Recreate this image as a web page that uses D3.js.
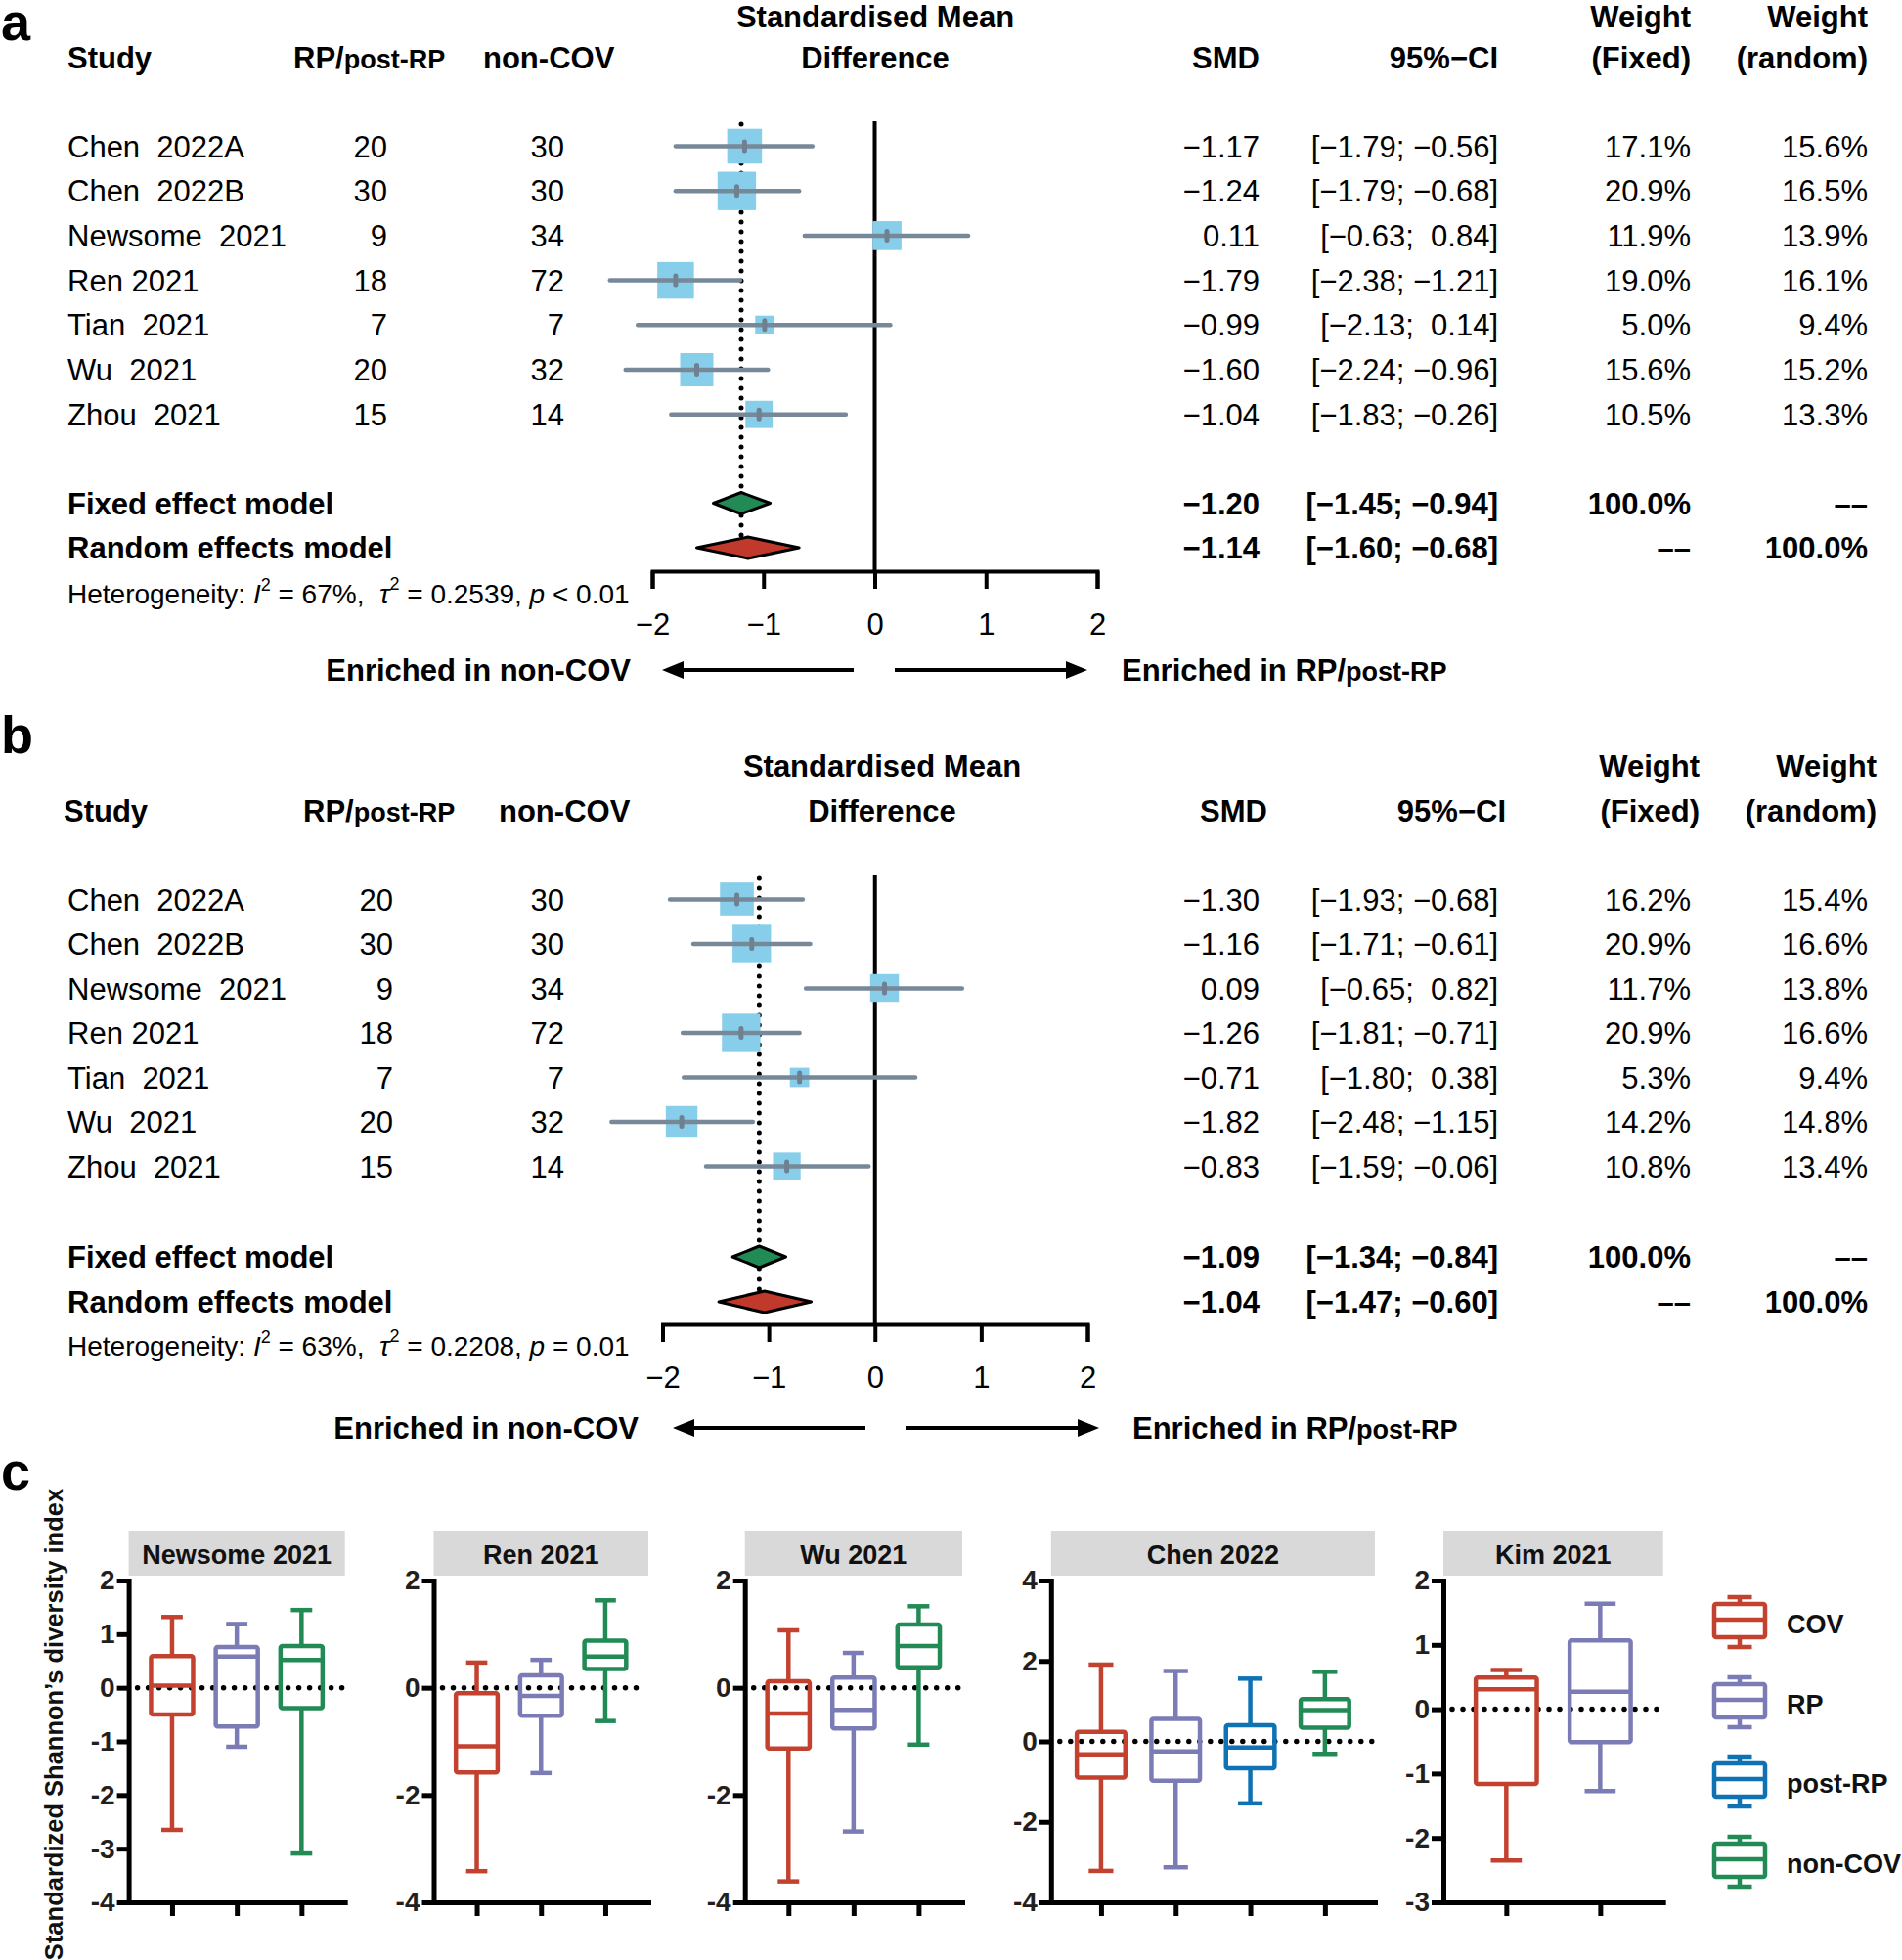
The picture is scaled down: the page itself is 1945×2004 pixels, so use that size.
<!DOCTYPE html>
<html><head><meta charset="utf-8">
<script src="https://cdn.jsdelivr.net/npm/d3@7"></script>
<style>
body{margin:0;background:#fff;}
svg{display:block;font-family:"Liberation Sans",Arial,Helvetica,sans-serif;}
text{white-space:pre;}
</style></head><body>
<svg id="chart" width="1945" height="2004"></svg>
<script>
// ---------------- DATA ----------------
const studies = ["Chen  2022A","Chen  2022B","Newsome  2021","Ren 2021","Tian  2021","Wu  2021","Zhou  2021"];
const nRP = [20,30,9,18,7,20,15];
const nNonCOV = [30,30,34,72,7,32,14];

// panel a
const smdA = [-1.17,-1.24,0.11,-1.79,-0.99,-1.60,-1.04];
const lowerA = [-1.79,-1.79,-0.63,-2.38,-2.13,-2.24,-1.83];
const upperA = [-0.56,-0.68,0.84,-1.21,0.14,-0.96,-0.26];
const wFixedA = [17.1,20.9,11.9,19.0,5.0,15.6,10.5];
const wRandomA = [15.6,16.5,13.9,16.1,9.4,15.2,13.3];
const fixedA = [-1.20,-1.45,-0.94];   // estimate, lower, upper
const randomA = [-1.14,-1.60,-0.68];
const hetA = ["67%","0.2539","< 0.01"];

// panel b
const smdB = [-1.30,-1.16,0.09,-1.26,-0.71,-1.82,-0.83];
const lowerB = [-1.93,-1.71,-0.65,-1.81,-1.80,-2.48,-1.59];
const upperB = [-0.68,-0.61,0.82,-0.71,0.38,-1.15,-0.06];
const wFixedB = [16.2,20.9,11.7,20.9,5.3,14.2,10.8];
const wRandomB = [15.4,16.6,13.8,16.6,9.4,14.8,13.4];
const fixedB = [-1.09,-1.34,-0.84];
const randomB = [-1.04,-1.47,-0.60];
const hetB = ["63%","0.2208","= 0.01"];

const smdTicks = [-2,-1,0,1,2];

// panel c
const boxGroups = ["COV","RP","post-RP","non-COV"];
const boxColors = ["#C2412F","#7B7BB6","#0E72B5","#228A55"];
const boxStudies = ["Newsome 2021","Ren 2021","Wu 2021","Chen 2022","Kim 2021"];
const boxGroupsByStudy = [
  ["COV","RP","non-COV"],
  ["COV","RP","non-COV"],
  ["COV","RP","non-COV"],
  ["COV","RP","post-RP","non-COV"],
  ["COV","RP"]
];
// [lower whisker, Q1, median, Q3, upper whisker]
const boxStats = [
  [[-2.65,-0.50,0.04,0.59,1.32],[-1.10,-0.72,0.58,0.76,1.19],[-3.09,-0.38,0.52,0.78,1.45]],
  [[-3.42,-1.58,-1.09,-0.10,0.47],[-1.59,-0.52,-0.15,0.23,0.52],[-0.62,0.35,0.58,0.88,1.63]],
  [[-3.61,-1.13,-0.48,0.12,1.07],[-2.68,-0.76,-0.41,0.19,0.65],[-1.06,0.38,0.78,1.18,1.52]],
  [[-3.22,-0.90,-0.32,0.24,1.91],[-3.13,-0.98,-0.25,0.56,1.75],[-1.54,-0.67,-0.15,0.40,1.56],[-0.31,0.34,0.78,1.05,1.73]],
  [[-2.35,-1.16,0.31,0.49,0.61],[-1.27,-0.51,0.27,1.07,1.64]]
];
const yDomains = [[-4,2],[-4,2],[-4,2],[-4,4],[-3,2]];
const yTicks = [[2,1,0,-1,-2,-3,-4],[2,0,-2,-4],[2,0,-2,-4],[4,2,0,-2,-4],[2,1,0,-1,-2,-3]];
const yLabel = "Standardized Shannon\u2019s diversity index";

// ---------------- DRAW ----------------
const svg = d3.select("#chart");
svg.append("rect").attr("width",1945).attr("height",2004).attr("fill","#fff");

function txt(g, x, y, s, o = {}) {
  return g.append("text").attr("x", x).attr("y", y).attr("dy", "0.36em")
    .attr("font-size", o.size || 31).attr("font-weight", o.bold ? "bold" : "normal")
    .attr("text-anchor", o.anchor || "start").attr("fill", o.fill || "#000").text(s);
}
const fmtNum = v => (v < 0 ? "\u2212" : "") + Math.abs(v).toFixed(2);
const fmtCI = (lo, hi) => "[" + (lo < 0 ? "\u2212" : " ") + Math.abs(lo).toFixed(2) + ";" + (hi < 0 ? " \u2212" : "  ") + Math.abs(hi).toFixed(2) + "]";
const fmtPct = v => v.toFixed(1) + "%";
const DASH = "\u2013\u2013";

function drawForest(L, D) {
  const g = svg.append("g");
  const x = d3.scaleLinear().domain([smdTicks[0], smdTicks[smdTicks.length - 1]]).range(L.xRange);
  const rowY = i => L.row0 + i * L.rowStep;

  // panel letter
  g.append("text").attr("x", L.letterX).attr("y", L.letterY).attr("font-size", 54).attr("font-weight", "bold").text(L.letter);

  // headers
  txt(g, L.hCenter, L.h1, "Standardised Mean", {bold: 1, anchor: "middle"});
  txt(g, L.hCenter, L.h2, "Difference", {bold: 1, anchor: "middle"});
  txt(g, L.hStudy, L.h2, "Study", {bold: 1});
  txt(g, L.hRP, L.h2, "RP/", {bold: 1}).append("tspan").attr("font-size", 27).text("post-RP");
  txt(g, L.hNon, L.h2, "non-COV", {bold: 1});
  txt(g, L.hSMD, L.h2, "SMD", {bold: 1, anchor: "end"});
  txt(g, L.hCI, L.h2, "95%\u2212CI", {bold: 1, anchor: "end"});
  txt(g, L.hWF, L.h1, "Weight", {bold: 1, anchor: "end"});
  txt(g, L.hWF, L.h2, "(Fixed)", {bold: 1, anchor: "end"});
  txt(g, L.hWR, L.h1, "Weight", {bold: 1, anchor: "end"});
  txt(g, L.hWR, L.h2, "(random)", {bold: 1, anchor: "end"});

  // reference lines
  g.append("line").attr("x1", x(0)).attr("x2", x(0)).attr("y1", L.zeroTop).attr("y2", L.axisY)
    .attr("stroke", "#000").attr("stroke-width", 4);
  g.append("line").attr("x1", x(D.fixed[0])).attr("x2", x(D.fixed[0])).attr("y1", L.zeroTop + 3).attr("y2", L.axisY - 8)
    .attr("stroke", "#000").attr("stroke-width", 5).attr("stroke-dasharray", "0 10").attr("stroke-linecap", "round");

  // study rows
  D.smd.forEach((v, i) => {
    const y = rowY(i);
    txt(g, L.cStudy, y, studies[i]);
    txt(g, L.cN1, y, String(nRP[i]), {anchor: "end"});
    txt(g, L.cN2, y, String(nNonCOV[i]), {anchor: "end"});
    const side = L.sq * Math.sqrt(D.wf[i]);
    g.append("rect").attr("x", x(v) - side / 2).attr("y", y - side / 2).attr("width", side).attr("height", side)
      .attr("fill", "#87CEEB");
    g.append("line").attr("x1", x(D.lo[i])).attr("x2", x(D.hi[i])).attr("y1", y).attr("y2", y)
      .attr("stroke", "#778899").attr("stroke-width", 4.5).attr("stroke-linecap", "round");
    g.append("rect").attr("x", x(v) - 2.5).attr("y", y - 7).attr("width", 5).attr("height", 14).attr("rx", 2.5)
      .attr("fill", "#6f8090");
    txt(g, L.cSMD, y, fmtNum(v), {anchor: "end"});
    txt(g, L.cCI, y, fmtCI(D.lo[i], D.hi[i]), {anchor: "end"});
    txt(g, L.cWF, y, fmtPct(D.wf[i]), {anchor: "end"});
    txt(g, L.cWR, y, fmtPct(D.wr[i]), {anchor: "end"});
  });

  // pooled rows
  const pooled = [
    {name: "Fixed effect model", est: D.fixed, y: L.fixedY, fill: "#228A55", wf: "100.0%", wr: DASH},
    {name: "Random effects model", est: D.random, y: L.randomY, fill: "#C0392B", wf: DASH, wr: "100.0%"}
  ];
  pooled.forEach(p => {
    txt(g, L.cStudy, p.y, p.name, {bold: 1});
    const h = 11;
    g.append("path").attr("d", `M${x(p.est[1])},${p.y} L${x(p.est[0])},${p.y - h} L${x(p.est[2])},${p.y} L${x(p.est[0])},${p.y + h} Z`)
      .attr("fill", p.fill).attr("stroke", "#000").attr("stroke-width", 3).attr("stroke-linejoin", "round");
    txt(g, L.cSMD, p.y, fmtNum(p.est[0]), {anchor: "end", bold: 1});
    txt(g, L.cCI, p.y, fmtCI(p.est[1], p.est[2]), {anchor: "end", bold: 1});
    txt(g, L.cWF, p.y, p.wf, {anchor: "end", bold: 1});
    txt(g, L.cWR, p.y, p.wr, {anchor: "end", bold: 1});
  });

  // heterogeneity
  const ht = txt(g, L.cStudy, L.hetY, "Heterogeneity: ", {size: 28});
  ht.append("tspan").attr("font-style", "italic").text("I");
  ht.append("tspan").attr("font-size", 18).attr("dy", -13).text("2");
  ht.append("tspan").attr("dy", 13).text(" = " + D.het[0] + ",  ");
  ht.append("tspan").attr("font-style", "italic").text("\u03C4");
  ht.append("tspan").attr("font-size", 18).attr("dy", -14).text("2");
  ht.append("tspan").attr("dy", 14).text(" = " + D.het[1] + ", ");
  ht.append("tspan").attr("font-style", "italic").text("p");
  ht.append("tspan").text(" " + D.het[2]);

  // axis
  const ax = g.append("g").attr("transform", `translate(0,${L.axisY})`)
    .call(d3.axisBottom(x).tickValues(smdTicks).tickSize(18).tickPadding(L.tickPad).tickFormat(d3.format("")));
  ax.selectAll("path,line").attr("stroke", "#000").attr("stroke-width", 4);
  ax.selectAll("text").attr("font-size", 31).attr("font-family", '"Liberation Sans",Arial,sans-serif').attr("fill", "#000");
  ax.attr("font-family", null).attr("font-size", null);

  // arrows
  const ay = L.arrowY;
  const arrow = (tail, tip) => {
    const dir = tip > tail ? 1 : -1;
    g.append("line").attr("x1", tail).attr("x2", tip - dir * 16).attr("y1", ay).attr("y2", ay)
      .attr("stroke", "#000").attr("stroke-width", 4);
    g.append("path").attr("d", `M${tip},${ay} L${tip - dir * 22},${ay - 9} L${tip - dir * 22},${ay + 9} Z`).attr("fill", "#000");
  };
  arrow(L.arrL[0], L.arrL[1]);
  arrow(L.arrR[0], L.arrR[1]);
  txt(g, L.arrTextL, ay, "Enriched in non-COV", {bold: 1, anchor: "end"});
  txt(g, L.arrTextR, ay, "Enriched in RP/", {bold: 1}).append("tspan").attr("font-size", 27).text("post-RP");
}

drawForest({
  letter: "a", letterX: 1, letterY: 41,
  xRange: [667, 1122], row0: 149.5, rowStep: 45.7, fixedY: 514.5, randomY: 560, hetY: 607,
  axisY: 584, tickPad: 25, arrowY: 685, zeroTop: 124, h1: 17, h2: 59, sq: 8.6,
  hCenter: 895, hStudy: 69, hRP: 300, hNon: 494, hSMD: 1288, hCI: 1532, hWF: 1729, hWR: 1910,
  cStudy: 69, cN1: 396, cN2: 577, cSMD: 1288, cCI: 1532, cWF: 1729, cWR: 1910,
  arrL: [873, 677], arrR: [915, 1112], arrTextL: 645, arrTextR: 1147
}, {smd: smdA, lo: lowerA, hi: upperA, wf: wFixedA, wr: wRandomA, fixed: fixedA, random: randomA, het: hetA});

drawForest({
  letter: "b", letterX: 1, letterY: 770,
  xRange: [677.5, 1112], row0: 919.5, rowStep: 45.5, fixedY: 1285, randomY: 1331, hetY: 1376,
  axisY: 1354, tickPad: 25, arrowY: 1460, zeroTop: 895, h1: 783, h2: 829, sq: 8.6,
  hCenter: 902, hStudy: 65, hRP: 310, hNon: 510, hSMD: 1296, hCI: 1540, hWF: 1738, hWR: 1919,
  cStudy: 69, cN1: 402, cN2: 577, cSMD: 1288, cCI: 1532, cWF: 1729, cWR: 1910,
  arrL: [885, 688], arrR: [926, 1124], arrTextL: 653, arrTextR: 1158
}, {smd: smdB, lo: lowerB, hi: upperB, wf: wFixedB, wr: wRandomB, fixed: fixedB, random: randomB, het: hetB});

// ---------------- PANEL C ----------------
const gc = svg.append("g");
gc.append("text").attr("x", 1).attr("y", 1523).attr("font-size", 54).attr("font-weight", "bold").text("c");
gc.append("text").attr("transform", "translate(55,1763) rotate(-90)").attr("dy", "0.36em")
  .attr("text-anchor", "middle").attr("font-size", 25.5).attr("font-weight", "bold").attr("fill", "#111").text(yLabel);

const cPanels = [
  {x0: 131.6, x1: 352.7}, {x0: 443.5, x1: 663}, {x0: 761.7, x1: 984}, {x0: 1074.8, x1: 1406}, {x0: 1476, x1: 1700.7}
];
const cTop = 1616, cBottom = 1945, stripTop = 1565, stripBot = 1611;
const colorOf = d3.scaleOrdinal().domain(boxGroups).range(boxColors);

boxStudies.forEach((name, k) => {
  const P = cPanels[k];
  const g = gc.append("g");
  const y = d3.scaleLinear().domain(yDomains[k]).range([cBottom, cTop]);
  const xs = d3.scalePoint().domain(boxGroupsByStudy[k]).range([P.x0, P.x1]).padding(0.67);
  const step = xs.step();
  const bw = 0.65 * step, cw = 0.33 * step;

  g.append("rect").attr("x", P.x0).attr("y", stripTop).attr("width", P.x1 - P.x0).attr("height", stripBot - stripTop).attr("fill", "#D9D9D9");
  txt(g, (P.x0 + P.x1) / 2, (stripTop + stripBot) / 2 + 1, name, {bold: 1, anchor: "middle", size: 27, fill: "#111"});

  // zero dotted line
  g.append("line").attr("x1", P.x0 + 9).attr("x2", P.x1 - 2).attr("y1", y(0)).attr("y2", y(0))
    .attr("stroke", "#000").attr("stroke-width", 5.5).attr("stroke-dasharray", "0 11").attr("stroke-linecap", "round");

  boxGroupsByStudy[k].forEach((grp, i) => {
    const s = boxStats[k][i];
    const cx = xs(grp), col = colorOf(grp);
    const sg = g.append("g").attr("stroke", col).attr("stroke-width", 4.5).attr("fill", "none").attr("stroke-linejoin", "round");
    sg.append("line").attr("x1", cx).attr("x2", cx).attr("y1", y(s[4])).attr("y2", y(s[3]));
    sg.append("line").attr("x1", cx).attr("x2", cx).attr("y1", y(s[1])).attr("y2", y(s[0]));
    sg.append("line").attr("x1", cx - cw / 2).attr("x2", cx + cw / 2).attr("y1", y(s[4])).attr("y2", y(s[4]));
    sg.append("line").attr("x1", cx - cw / 2).attr("x2", cx + cw / 2).attr("y1", y(s[0])).attr("y2", y(s[0]));
    sg.append("rect").attr("x", cx - bw / 2).attr("y", y(s[3])).attr("width", bw).attr("height", y(s[1]) - y(s[3])).attr("rx", 2);
    sg.append("line").attr("x1", cx - bw / 2).attr("x2", cx + bw / 2).attr("y1", y(s[2])).attr("y2", y(s[2]));
  });

  const ya = g.append("g").attr("transform", `translate(${P.x0},0)`)
    .call(d3.axisLeft(y).tickValues(yTicks[k]).tickSize(12).tickSizeOuter(0).tickPadding(2).tickFormat(d => String(d)));
  const xa = g.append("g").attr("transform", `translate(0,${cBottom})`)
    .call(d3.axisBottom(xs).tickSize(14).tickSizeOuter(0).tickFormat(""));
  [ya, xa].forEach(a => {
    a.attr("font-family", null).attr("font-size", null);
    a.selectAll("path,line").attr("stroke", "#000").attr("stroke-width", 5);
    a.select(".domain").attr("stroke-linecap", "square");
    a.selectAll("text").attr("font-size", 28).attr("font-weight", "bold").attr("fill", "#231F20")
      .attr("font-family", '"Liberation Sans",Arial,sans-serif');
  });
});

// legend
const legCenters = [1657, 1739, 1820, 1902];
const lg = gc.append("g");
boxGroups.forEach((grp, i) => {
  const cy = legCenters[i], cx = 1779, col = colorOf(grp);
  const sg = lg.append("g").attr("stroke", col).attr("stroke-width", 4.5).attr("fill", "none");
  sg.append("line").attr("x1", cx).attr("x2", cx).attr("y1", cy - 24).attr("y2", cy - 17);
  sg.append("line").attr("x1", cx).attr("x2", cx).attr("y1", cy + 17).attr("y2", cy + 27);
  sg.append("line").attr("x1", cx - 12.5).attr("x2", cx + 12.5).attr("y1", cy - 24).attr("y2", cy - 24);
  sg.append("line").attr("x1", cx - 12.5).attr("x2", cx + 12.5).attr("y1", cy + 27).attr("y2", cy + 27);
  sg.append("rect").attr("x", cx - 26).attr("y", cy - 17).attr("width", 52).attr("height", 34).attr("rx", 2);
  sg.append("line").attr("x1", cx - 26).attr("x2", cx + 26).attr("y1", cy - 1).attr("y2", cy - 1);
  txt(lg, 1827, cy + 3, grp, {bold: 1, size: 27, fill: "#111"});
});
</script>
</body></html>
